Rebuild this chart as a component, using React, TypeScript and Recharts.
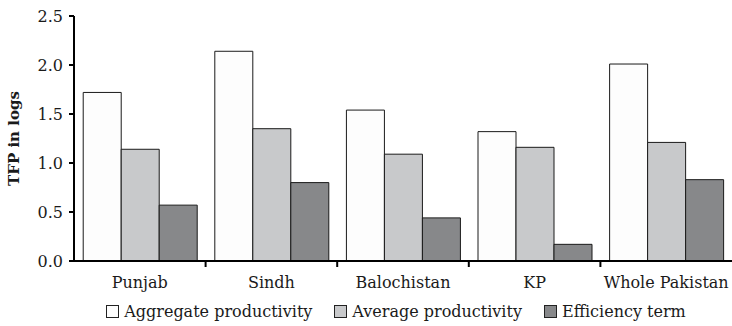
import React from 'react';
import { BarChart, Bar, XAxis, YAxis, Legend } from 'recharts';

const regions = ['Punjab', 'Sindh', 'Balochistan', 'KP', 'Whole Pakistan'];
const aggregateProductivity = [1.72, 2.14, 1.54, 1.32, 2.01];
const averageProductivity = [1.14, 1.35, 1.09, 1.16, 1.21];
const efficiencyTerm = [0.57, 0.8, 0.44, 0.17, 0.83];
const yTicks = [0, 0.5, 1, 1.5, 2, 2.5];

const series = [
    { key: 'aggregate', name: 'Aggregate productivity', fill: '#fdfdfd' },
    { key: 'average', name: 'Average productivity', fill: '#c8c9cb' },
    { key: 'efficiency', name: 'Efficiency term', fill: '#87888a' },
];

const data = regions.map((region, i) => ({
    region,
    aggregate: aggregateProductivity[i],
    average: averageProductivity[i],
    efficiency: efficiencyTerm[i],
}));

const FONT = '"DejaVu Serif", serif';

// category label plus a tick mark on the boundary to the right
const CategoryTick = (props: any) => {
    const { x, y, payload, index, width, visibleTicksCount } = props;
    const half = width / visibleTicksCount / 2;
    const last = index === visibleTicksCount - 1;
    return (
        <g>
            {!last && (
                <line x1={x + half} x2={x + half} y1={y - 8} y2={y - 2} stroke="#000" strokeWidth={2} />
            )}
            <text x={x} y={y + 19} textAnchor="middle" fontFamily={FONT} fontSize={16} fill="#1a1a1a">
                {payload.value}
            </text>
        </g>
    );
};

const LegendContent = () => (
    <div
        style={{
            display: 'flex',
            justifyContent: 'center',
            gap: 22,
            fontFamily: FONT,
            fontSize: 16,
            color: '#1a1a1a',
            paddingLeft: 60,
            paddingTop: 6,
        }}
    >
        {series.map((s) => (
            <span key={s.key} style={{ display: 'flex', alignItems: 'center' }}>
                <span
                    style={{
                        display: 'inline-block',
                        width: 11,
                        height: 11,
                        background: s.fill,
                        border: '1px solid #222',
                        marginRight: 5,
                    }}
                />
                {s.name}
            </span>
        ))}
    </div>
);

const App: React.FC = () => {
    return (
        <div style={{ position: 'absolute', left: 0, top: 0, width: 732, height: 326, background: '#fff' }}>
            <BarChart
                width={732}
                height={326}
                data={data}
                margin={{ top: 16, right: 0, left: 0, bottom: 0 }}
                barCategoryGap="7%"
                barGap={0}
            >
                <XAxis
                    dataKey="region"
                    height={35}
                    tickLine={false}
                    axisLine={{ stroke: '#000', strokeWidth: 2 }}
                    tick={<CategoryTick />}
                    interval={0}
                />
                <YAxis
                    width={74}
                    domain={[0, 2.5]}
                    ticks={yTicks}
                    tickFormatter={(v: number) => v.toFixed(1)}
                    tickSize={5}
                    tickMargin={6}
                    axisLine={{ stroke: '#000', strokeWidth: 2 }}
                    tickLine={{ stroke: '#000', strokeWidth: 2 }}
                    tick={{ fontFamily: FONT, fontSize: 16, fill: '#1a1a1a' }}
                    label={{
                        value: 'TFP in logs',
                        angle: -90,
                        position: 'insideLeft',
                        offset: 14,
                        style: { fontFamily: FONT, fontSize: 15, fontWeight: 'bold', fill: '#1a1a1a', textAnchor: 'middle' },
                    }}
                />
                <Legend verticalAlign="bottom" height={30} content={<LegendContent />} />
                {series.map((s) => (
                    <Bar
                        key={s.key}
                        dataKey={s.key}
                        name={s.name}
                        fill={s.fill}
                        stroke="#1a1a1a"
                        strokeWidth={1}
                        isAnimationActive={false}
                    />
                ))}
            </BarChart>
        </div>
    );
};

export default App;
